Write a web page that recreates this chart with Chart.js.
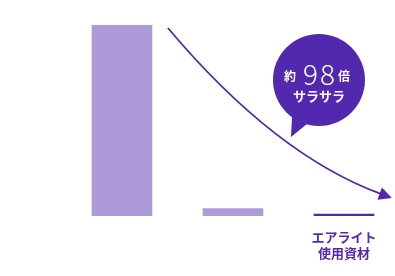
<!DOCTYPE html>
<html>
<head>
<meta charset="utf-8">
<script src="https://cdn.jsdelivr.net/npm/chart.js@4"></script>
<style>
  html, body { margin: 0; padding: 0; background: #fff; }
  #wrap { width: 395px; height: 276px; }
</style>
</head>
<body>
<div id="wrap"><canvas id="chart"></canvas></div>
<script>
// data
var positions = [0, 1, 2];
var values = [98, 3.8, 1];
var labels = ['', '', ['エアライト', '使用資材']];
var barColors = ['rgb(172,155,216)', 'rgb(172,155,216)', 'rgb(82,41,174)'];

// annotation anchors (data units)
var arrowStart = [0.414, 96.6];
var arrowCtrl = [1.378, 31.3];
var arrowEnd = [2.432, 9.25];
var bubbleAt = [1.775, 69.9];

var purple = 'rgb(82,41,174)';
var jp = '"Noto Sans CJK JP", "Noto Sans", sans-serif';

var decor = {
    id: 'decor',
    afterDatasetsDraw: function (chart) {
        var c = chart.ctx, sx = chart.scales.x, sy = chart.scales.y;
        var px = function (p) { return [sx.getPixelForValue(p[0]), sy.getPixelForValue(p[1])]; };
        var a = px(arrowStart), b = px(arrowCtrl), e = px(arrowEnd);
        c.save();
        // curved arrow
        var ang = Math.atan2(e[1] - b[1], e[0] - b[0]);
        var hl = 13, hw = 6.5;
        var base = [e[0] - Math.cos(ang) * hl, e[1] - Math.sin(ang) * hl];
        c.strokeStyle = purple;
        c.lineWidth = 1.8;
        c.beginPath();
        c.moveTo(a[0], a[1]);
        c.quadraticCurveTo(b[0], b[1], base[0] + Math.cos(ang) * 2, base[1] + Math.sin(ang) * 2);
        c.stroke();
        c.fillStyle = purple;
        c.beginPath();
        c.moveTo(e[0], e[1]);
        c.lineTo(base[0] - Math.sin(ang) * hw, base[1] + Math.cos(ang) * hw);
        c.lineTo(base[0] + Math.sin(ang) * hw, base[1] - Math.cos(ang) * hw);
        c.closePath();
        c.fill();

        // speech bubble
        var m = px(bubbleAt), r = 46;
        c.beginPath();
        c.arc(m[0], m[1], r, 0, Math.PI * 2);
        c.fill();
        c.beginPath();
        c.moveTo(m[0] - 27, m[1] + 37);
        c.lineTo(m[0] - 28, m[1] + 57);
        c.lineTo(m[0] - 12, m[1] + 44);
        c.closePath();
        c.fill();

        c.fillStyle = '#fff';
        c.textAlign = 'center';
        c.textBaseline = 'middle';
        c.font = 'bold 12px ' + jp;
        c.fillText('約', m[0] - 29, m[1] - 4);
        c.fillText('倍', m[0] + 25, m[1] - 4);
        c.font = 'bold 13px ' + jp;
        c.fillText('サラサラ', m[0], m[1] + 16);
        c.textBaseline = 'alphabetic';
        c.font = '300 28px ' + jp;
        c.letterSpacing = '2px';
        c.fillText('98', m[0] + 1, m[1] + 5);
        c.restore();
    }
};

new Chart(document.getElementById('chart'), {
    type: 'bar',
    data: {
        datasets: [{
            data: positions.map(function (p, i) { return { x: p, y: values[i] }; }),
            backgroundColor: barColors,
            barThickness: 60
        }]
    },
    options: {
        responsive: true,
        maintainAspectRatio: false,
        animation: false,
        layout: { padding: 0 },
        plugins: { legend: { display: false }, tooltip: { enabled: false } },
        scales: {
            x: {
                type: 'linear',
                offset: false,
                min: -1.099,
                max: 2.46,
                border: { display: false },
                grid: { display: false, drawTicks: false },
                afterBuildTicks: function (s) { s.ticks = positions.map(function (p) { return { value: p }; }); },
                afterFit: function (s) { s.height = 60; },
                ticks: {
                    padding: 13,
                    color: purple,
                    font: { family: jp, size: 13, weight: 'bold', lineHeight: 1.25 },
                    callback: function (v, i) { return labels[i]; }
                }
            },
            y: {
                display: false,
                min: 0,
                max: 111
            }
        }
    },
    plugins: [decor]
});
</script>
</body>
</html>
